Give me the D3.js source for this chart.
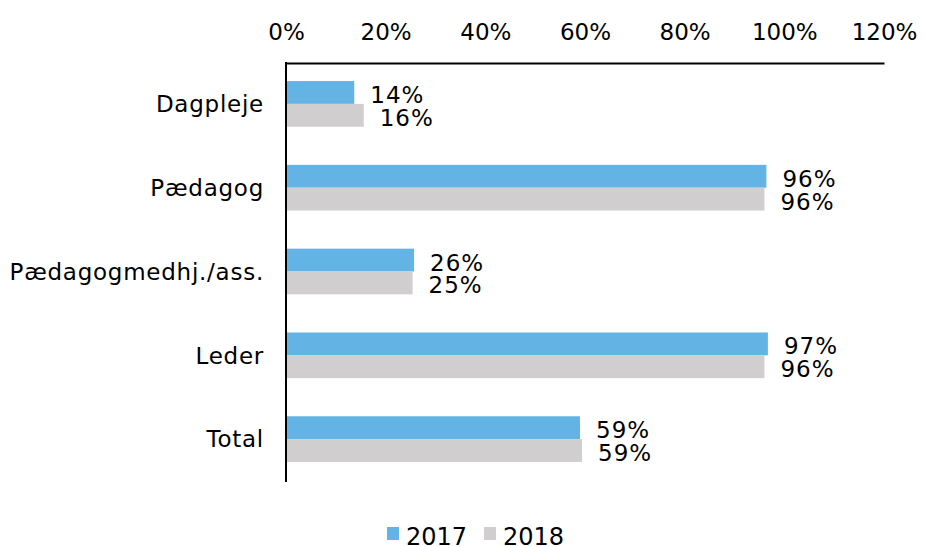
<!DOCTYPE html>
<html>
<head>
<meta charset="utf-8">
<script src="https://cdn.jsdelivr.net/npm/d3@7"></script>
<style>
  html, body { margin: 0; padding: 0; background: #fff; }
  svg { display: block; font-family: "DejaVu Sans", Verdana, sans-serif; }
</style>
</head>
<body>
<svg id="chart" width="925" height="547"></svg>
<script>
// Categories (top to bottom) and the share for each year
const categories = ["Dagpleje", "Pædagog", "Pædagogmedhj./ass.", "Leder", "Total"];
const seriesNames = ["2017", "2018"];
const values2017 = [0.137, 0.964, 0.257, 0.967, 0.590];
const values2018 = [0.156, 0.960, 0.254, 0.960, 0.594];
const tickValues = [0, 0.2, 0.4, 0.6, 0.8, 1.0, 1.2];
const colors = ["#63b4e4", "#d0cecf"];

const svg = d3.select("#chart");
const fontSize = 23;

const x = d3.scaleLinear().domain([0, 1.2]).range([286, 884]);
const y0 = d3.scaleBand().domain(categories).range([62, 481])
  .paddingInner(0.455).paddingOuter(0.2275);
const y1 = d3.scaleBand().domain(seriesNames).range([0, y0.bandwidth()]).padding(0);

const rows = categories.map((c, i) => ({
  category: c,
  values: [
    { series: "2017", value: values2017[i] },
    { series: "2018", value: values2018[i] }
  ]
}));

const fmt = d3.format(".0%");

// Top axis with percent labels, no tick marks
const xAxis = d3.axisTop(x).tickValues(tickValues).tickFormat(fmt).tickSize(0).tickPadding(23);
const gx = svg.append("g").attr("transform", "translate(0,63)").call(xAxis);
gx.select(".domain").attr("stroke", "#000").attr("stroke-width", 2);
gx.selectAll("text").attr("font-size", fontSize).attr("fill", "#000")
  .attr("font-family", "DejaVu Sans, Verdana, sans-serif");

// Left axis with category labels
const yAxis = d3.axisLeft(y0).tickSize(0).tickPadding(22).tickSizeOuter(0);
const gy = svg.append("g").attr("transform", "translate(286,1)").call(yAxis);
gy.select(".domain").remove();
svg.append("line").attr("x1", 286).attr("x2", 286).attr("y1", 62).attr("y2", 482)
  .attr("stroke", "#000").attr("stroke-width", 2);
gy.selectAll("text").attr("font-size", fontSize).attr("fill", "#000")
  .attr("letter-spacing", "0.75px")
  .attr("font-family", "DejaVu Sans, Verdana, sans-serif");

// Bars
const groups = svg.append("g").selectAll("g").data(rows).join("g")
  .attr("transform", d => `translate(0,${y0(d.category)})`);

groups.selectAll("rect").data(d => d.values).join("rect")
  .attr("x", x(0) + 1)
  .attr("y", d => y1(d.series))
  .attr("width", d => x(d.value) - x(0) - 1)
  .attr("height", y1.bandwidth())
  .attr("fill", (d, i) => colors[i]);

// Value labels
groups.selectAll("text.val").data(d => d.values).join("text")
  .attr("class", "val")
  .attr("x", d => x(d.value) + 16)
  .attr("y", d => y1(d.series) + y1.bandwidth() / 2)
  .attr("dy", "0.46em")
  .attr("font-size", fontSize)
  .attr("letter-spacing", "1px")
  .attr("fill", "#000")
  .text(d => fmt(d.value));

// Legend
const legend = svg.append("g").attr("transform", "translate(387,527)");
const legendX = [0, 97];
seriesNames.forEach((s, i) => {
  const g = legend.append("g").attr("transform", `translate(${legendX[i]},0)`);
  g.append("rect").attr("width", 12).attr("height", 13).attr("fill", colors[i]);
  g.append("text").attr("x", 19).attr("y", 18).attr("font-size", 24)
    .attr("fill", "#000").text(s);
});
</script>
</body>
</html>
